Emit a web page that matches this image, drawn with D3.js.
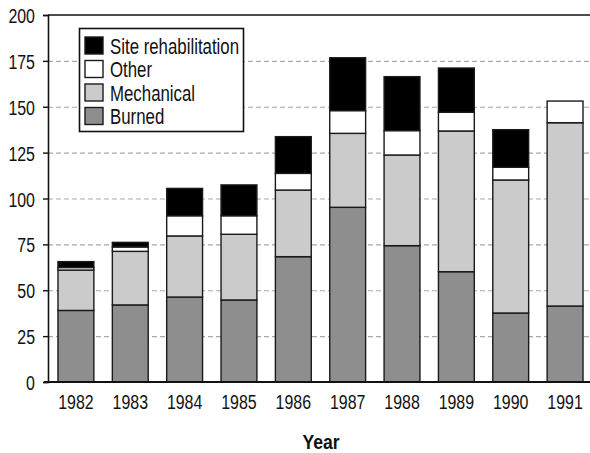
<!DOCTYPE html>
<html>
<head>
<meta charset="utf-8">
<script src="https://cdn.jsdelivr.net/npm/d3@7"></script>
<style>
  body { margin: 0; background: #fff; }
  svg text { font-family: "Liberation Sans", Arial, sans-serif; fill: #111; }
</style>
</head>
<body>
<div id="chart"></div>
<script>
var years = ['1982', '1983', '1984', '1985', '1986', '1987', '1988', '1989', '1990', '1991'];
var burned     = [39, 42, 46.3, 44.7, 68.3, 95.2, 74.3, 60.1, 37.6, 41.4];
var mechanical = [22, 29.2, 33.3, 35.8, 36.3, 40.3, 49.4, 76.7, 72.5, 99.9];
var other      = [1.4, 2.4, 11, 10.1, 9.1, 12.4, 13.3, 10.2, 6.9, 11.8];
var siteRehab  = [3.2, 2.5, 14.9, 16.8, 20, 28.8, 29.4, 24.1, 20.5, 0];
var seriesNames = ['Burned', 'Mechanical', 'Other', 'Site rehabilitation'];
var yTicks = [0, 25, 50, 75, 100, 125, 150, 175, 200];

var colors = {
  'Burned': '#8e8e8e',
  'Mechanical': '#cbcbcb',
  'Other': '#ffffff',
  'Site rehabilitation': '#000000'
};

var width = 590, height = 453,
    margin = {top: 15, right: 1, bottom: 71, left: 48},
    squeeze = 0.76; // condensed look for the type

var rows = years.map(function (yr, i) {
  return {
    year: yr,
    'Burned': burned[i],
    'Mechanical': mechanical[i],
    'Other': other[i],
    'Site rehabilitation': siteRehab[i]
  };
});

var layers = d3.stack().keys(seriesNames)(rows);

var x = d3.scaleBand()
  .domain(years)
  .range([margin.left, width - margin.right])
  .paddingInner(0.34)
  .paddingOuter(0.147)
  .align(0.625);

var y = d3.scaleLinear()
  .domain([0, 200])
  .range([height - margin.bottom, margin.top]);

var svg = d3.select('#chart').append('svg')
  .attr('width', width)
  .attr('height', height);

// grid lines
svg.append('g').attr('class', 'grid')
  .selectAll('line')
  .data(yTicks.filter(function (d) { return d > 0 && d < 200; }))
  .enter().append('line')
  .attr('x1', margin.left)
  .attr('x2', width)
  .attr('y1', function (d) { return y(d) + 0.5; })
  .attr('y2', function (d) { return y(d) + 0.5; })
  .attr('stroke', '#a8a8a8')
  .attr('stroke-width', 1.2)
  .attr('stroke-dasharray', '5,3');

// top frame line
svg.append('line')
  .attr('x1', margin.left).attr('x2', width)
  .attr('y1', y(200)).attr('y2', y(200))
  .attr('stroke', '#111').attr('stroke-width', 1.6);

// bars
var groups = svg.append('g').attr('class', 'bars')
  .selectAll('g')
  .data(layers)
  .enter().append('g')
  .attr('fill', function (d) { return colors[d.key]; });

groups.selectAll('rect')
  .data(function (d) { return d.filter(function (p) { return p[1] - p[0] > 0; }); })
  .enter().append('rect')
  .attr('x', function (d) { return x(d.data.year); })
  .attr('y', function (d) { return y(d[1]); })
  .attr('width', x.bandwidth())
  .attr('height', function (d) { return y(d[0]) - y(d[1]); })
  .attr('stroke', '#1a1a1a')
  .attr('stroke-width', 1.4);

// y axis
var yAxis = d3.axisLeft(y).tickValues(yTicks).tickSize(5).tickPadding(8);
var gy = svg.append('g')
  .attr('transform', 'translate(' + margin.left + ',0)')
  .call(yAxis);
gy.select('.domain').attr('stroke', '#111').attr('stroke-width', 1.6);
gy.selectAll('.tick line').attr('stroke', '#111').attr('stroke-width', 1.4);
gy.selectAll('.tick text')
  .attr('x', 0)
  .attr('dy', '0.36em')
  .attr('transform', 'translate(-13,0) scale(' + squeeze + ',1)')
  .style('font-size', '21px')
  .attr('fill', '#111');

// x axis
var xAxis = d3.axisBottom(x).tickSize(0);
var gx = svg.append('g')
  .attr('transform', 'translate(0,' + y(0) + ')')
  .call(xAxis);
gx.select('.domain').remove();
gx.append('line')
  .attr('x1', margin.left - 4).attr('x2', width)
  .attr('stroke', '#111').attr('stroke-width', 1.8);
gx.selectAll('.tick text')
  .attr('y', 0)
  .attr('dy', null)
  .attr('transform', 'translate(0,27) scale(' + squeeze + ',1)')
  .style('font-size', '21px')
  .attr('fill', '#111');

// x axis title
svg.append('text')
  .attr('transform', 'translate(321,449) scale(0.88,1)')
  .attr('text-anchor', 'middle')
  .style('font-size', '20px')
  .style('font-weight', 'bold')
  .text('Year');

// legend
var legend = svg.append('g').attr('class', 'legend');
legend.append('rect')
  .attr('x', 79.5).attr('y', 28.5)
  .attr('width', 164).attr('height', 103)
  .attr('fill', '#fff')
  .attr('stroke', '#111').attr('stroke-width', 1.6);

var legendOrder = seriesNames.slice().reverse();
var item = legend.selectAll('g.item')
  .data(legendOrder)
  .enter().append('g')
  .attr('class', 'item')
  .attr('transform', function (d, i) { return 'translate(85,' + (37 + i * 23.5) + ')'; });

item.append('rect')
  .attr('width', 18).attr('height', 17)
  .attr('fill', function (d) { return colors[d]; })
  .attr('stroke', '#1a1a1a').attr('stroke-width', 1.4);

item.append('text')
  .attr('transform', 'translate(25,16.5) scale(0.765,1)')
  .style('font-size', '22px')
  .text(function (d) { return d; });
</script>
</body>
</html>
